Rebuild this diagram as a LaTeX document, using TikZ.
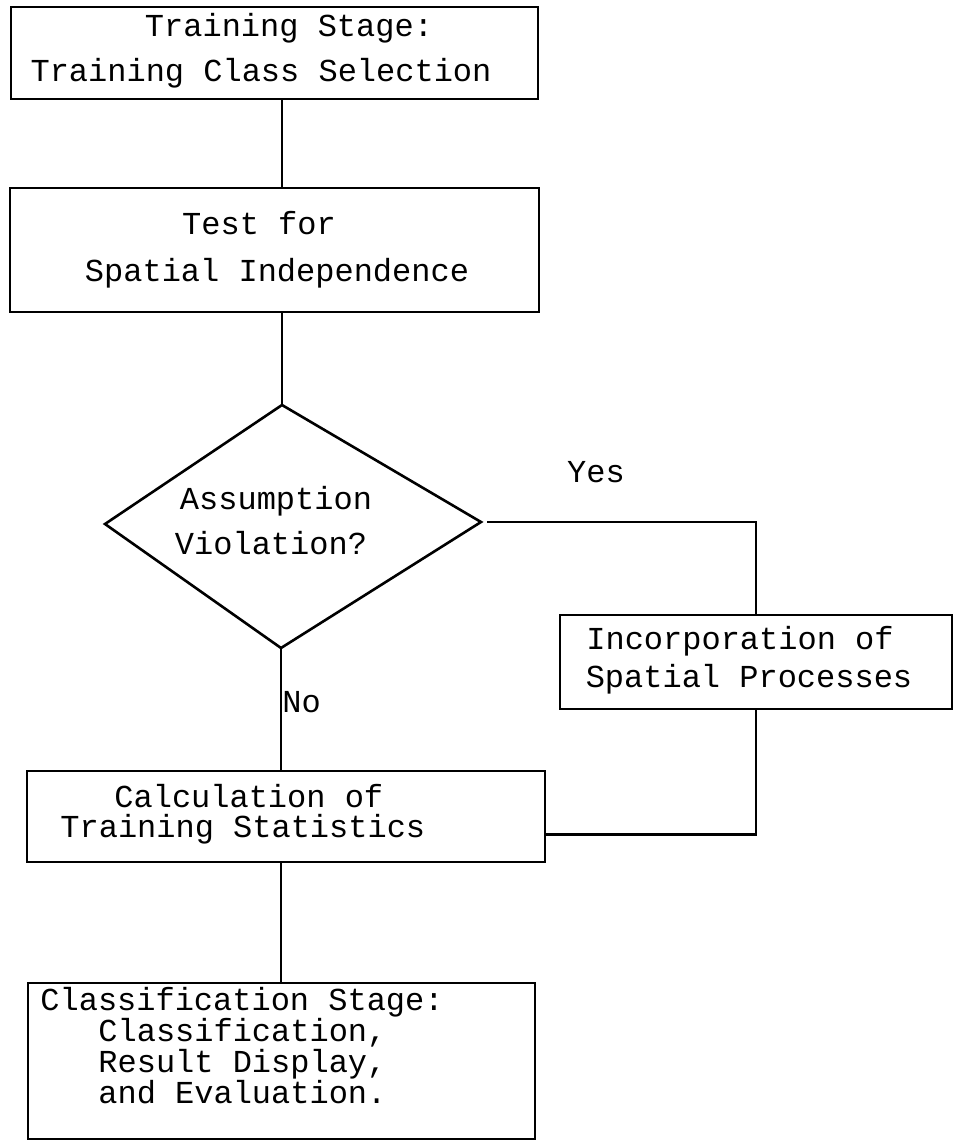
\documentclass[tikz,border=0pt]{standalone}
\usepackage{fontspec}
\setmonofont{Liberation Mono}
\usetikzlibrary{shapes.geometric}
\begin{document}
\begin{tikzpicture}[x=0.5pt,y=-0.5pt,
  box/.style={draw, line width=1.3pt, rectangle, inner sep=0pt},
  lbl/.style={inner sep=0pt, font=\ttfamily\fontsize{16pt}{19pt}\selectfont},
  conn/.style={line width=1.2pt}]
\useasboundingbox (0,0) rectangle (954,1142);
% boxes
\node[box, minimum width=263.5pt, minimum height=46pt] (b1) at (274.5,53) {};
\node[box, minimum width=264.5pt, minimum height=62pt] (b2) at (274.5,250) {};
\coordinate (dT) at (282,405);
\coordinate (dR) at (481,522);
\coordinate (dB) at (281,648);
\coordinate (dL) at (105,524);
\draw[line width=1.3pt, line join=miter] (dT) -- (dR) -- (dB) -- (dL) -- cycle;
\node[box, minimum width=196pt, minimum height=47pt] (b3) at (756,662) {};
\node[box, minimum width=259pt, minimum height=45.5pt] (b4) at (286,816.5) {};
\node[box, minimum width=253.5pt, minimum height=78pt] (b5) at (281.5,1061) {};
% texts
\node[lbl, anchor=mid] (t1a) at (289,32) {Training Stage:};
\node[lbl, anchor=mid] (t1b) at (261,77) {Training Class Selection};
\node[lbl, anchor=mid] (t2a) at (259,230) {Test for};
\node[lbl, anchor=mid] (t2b) at (277,277) {Spatial Independence};
\node[lbl, anchor=mid] (tda) at (276,505) {Assumption};
\node[lbl, anchor=mid] (tdb) at (271,550) {Violation?};
\node[lbl, anchor=mid] (tyes) at (596,478) {Yes};
\node[lbl, anchor=mid] (t3a) at (740,645) {Incorporation of};
\node[lbl, anchor=mid] (t3b) at (749,683) {Spatial Processes};
\node[lbl, anchor=mid west] (tno) at (282,708) {No};
\node[lbl, anchor=mid west] (t4a) at (114,803) {Calculation of};
\node[lbl, anchor=mid west] (t4b) at (60,833) {Training Statistics};
\node[lbl, anchor=mid west] (t5a) at (40,1006) {Classification Stage:};
\node[lbl, anchor=mid west] (t5b) at (98,1037) {Classification,};
\node[lbl, anchor=mid west] (t5c) at (98,1068) {Result Display,};
\node[lbl, anchor=mid west] (t5d) at (98,1099) {and Evaluation.};
% connectors
\coordinate (jy) at (487,522);
\coordinate (j4) at ([yshift=14.5pt]b4.south east);
\draw[conn] (b1.south -| dT) -- (b2.north -| dT);
\draw[conn] (b2.south -| dT) -- (dT);
\draw[conn] (jy) -| (b3.north);
\draw[conn] (b3.south) |- (j4);
\draw[conn] (dB) -- (b4.north -| dB);
\draw[conn] (b4.south -| dB) -- (b5.north -| dB);
\end{tikzpicture}
\end{document}
